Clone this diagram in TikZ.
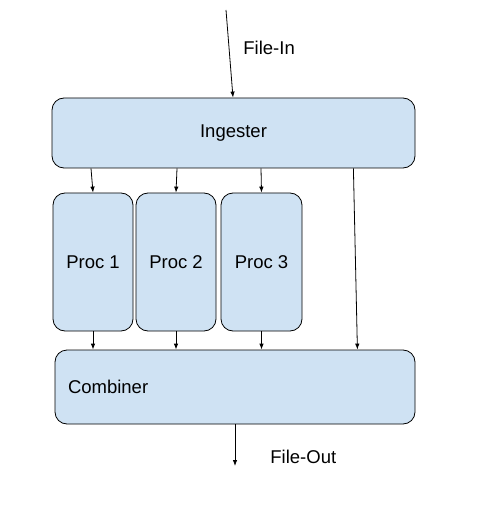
\documentclass[tikz,border=0pt]{standalone}
\usepackage{fontspec}
\setmainfont{Liberation Sans}
\usetikzlibrary{arrows.meta}
\definecolor{boxblue}{HTML}{CFE2F3}
\begin{document}
\begin{tikzpicture}[x=1pt, y=-1pt, line width=0.8pt, >={Latex[length=6pt,width=4.5pt]},
  box node/.style={rectangle,rounded corners=12pt,draw=black,fill=boxblue,inner sep=0pt,font=\fontsize{18.5}{22}\selectfont},
  label node/.style={anchor=west,inner sep=0pt,font=\fontsize{18.5}{22}\selectfont}]
\useasboundingbox (0,0) rectangle (496,526);
\begin{scope}
\node[box node,minimum width=363pt,minimum height=70pt] (ing) at (233.5,133) {Ingester};%ingester
\node[box node,minimum width=80pt,minimum height=138pt] (p1) at (93,262) {Proc 1};%1
\node[box node,minimum width=80pt,minimum height=138pt] (p2) at (176,262) {Proc 2};%2
\node[box node,minimum width=81pt,minimum height=138pt] (p3) at (261.5,262) {Proc 3};%3
\node[box node,minimum width=360pt,minimum height=74pt,text width=334pt,align=left] (comb) at (235,387) {Combiner};%combiner
\node[label node] (fin) at (243,48) {File-In};
\node[label node] (fout) at (270,457) {File-Out};
\coordinate (src) at (226,10);
\coordinate (dst) at (235,466);
\end{scope}
\begin{scope}[every path/.style={draw=black,line width=0.8pt}]
\draw[->] (src) -- ([xshift=-0.5pt]ing.north);
\draw[->] ([xshift=-2pt]p1.north |- ing.south) -- (p1.north);
\draw[->] ([xshift=1pt]p2.north |- ing.south) -- (p2.north);
\draw[->] ([xshift=-0.5pt]p3.north |- ing.south) -- (p3.north);
\draw[->] ([xshift=-62pt]ing.south east) -- ([xshift=-58pt]comb.north east);
\draw[->] (p1.south) -- (p1.south |- comb.north);
\draw[->] (p2.south) -- (p2.south |- comb.north);
\draw[->] (p3.south) -- (p3.south |- comb.north);
\draw[->] (comb.south) -- (dst);
\end{scope}
\end{tikzpicture}
\end{document}
